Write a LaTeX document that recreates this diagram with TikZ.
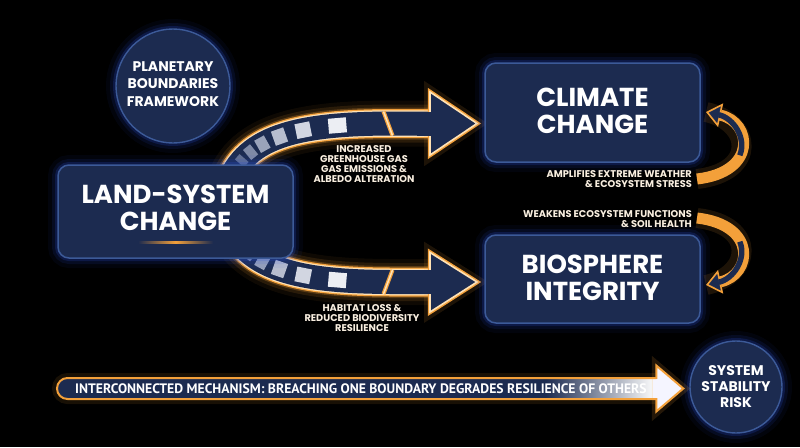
\documentclass[tikz,border=0pt]{standalone}
\usepackage{fontspec}
\setmainfont{Poppins}
\newfontfamily\condfont{PT Sans}
\usetikzlibrary{arrows.meta,calc}
\definecolor{navyc}{HTML}{1C2B50}
\definecolor{edgec}{HTML}{3C5A98}
\definecolor{glowc}{HTML}{2A50D8}
\definecolor{orgc}{HTML}{F3A03A}
\definecolor{creamc}{HTML}{FFE2B5}
\definecolor{lblc}{HTML}{F8EEDF}
\definecolor{sqa}{HTML}{65718F}
\definecolor{sqb}{HTML}{7F8AA6}
\definecolor{sqc}{HTML}{9AA3BA}
\definecolor{sqd}{HTML}{B7BDCE}
\definecolor{sqe}{HTML}{D2D6E1}
\definecolor{sqf}{HTML}{ECEEF3}
\pgfdeclarehorizontalshading{barshade}{100bp}{color(0bp)=(navyc); color(25bp)=(navyc); color(65bp)=(navyc); color(74bp)=(white); color(100bp)=(white)}
\tikzset{
  blueglow/.style={preaction={draw=glowc, line width=20pt, opacity=0.06},
                   preaction={draw=glowc, line width=12pt, opacity=0.11},
                   preaction={draw=glowc, line width=6pt, opacity=0.2}},
  panel/.style={blueglow, draw=edgec, line width=1.5pt, fill=navyc, rounded corners=11pt, inner sep=0pt},
  bigtxt/.style={text=white, align=center, font=\bfseries\fontsize{26}{27}\selectfont, inner sep=0pt},
  disc/.style={blueglow, circle, draw=edgec, line width=1.4pt, fill=navyc, text=white, align=center, inner sep=0pt},
  lbl/.style={text=lblc, font=\bfseries\fontsize{9.8}{10.2}\selectfont, inner sep=0pt},
  sqr/.style={sloped, inner sep=0pt},
  headsty/.style={fill=navyc, draw=creamc, line width=1.6pt, line join=miter,
                  preaction={draw=orgc, line width=12pt, opacity=0.12},
                  preaction={draw=orgc, line width=4.5pt}},
}
\begin{document}
\begin{tikzpicture}[x=1pt,y=-1pt]
\fill[black] (0,0) rectangle (800,447);
\useasboundingbox (0,0) rectangle (800,447);

% ---------- upper big arrow ----------
\coordinate (ua) at (226,192);
\coordinate (uk) at (390,123.5);
\coordinate (ub) at (431,123.5);
\coordinate (ut) at (477,123.5);
\def\upath{(ua) .. controls (240,135) and (300,124) .. (uk) -- (ub)}
\draw[orgc, line width=46pt, opacity=0.06] \upath;
\draw[orgc, line width=38pt, opacity=0.12] \upath;
\draw[orgc, line width=32pt, opacity=0.25] \upath;
\draw[orgc, line width=29pt] \upath;
\draw[creamc, line width=26.5pt] \upath;
\draw[navyc, line width=24pt] \upath;
\path[headsty] ($(ut)+(-47,-31.5)$) -- (ut) -- ($(ut)+(-47,31.5)$) -- cycle;
\draw[navyc, line width=24pt] ($(ub)+(-14,0)$) -- ($(ub)+(3,0)$);
\draw[creamc, line width=1.5pt, preaction={draw=orgc, line width=4pt}] (383.5,111.5) -- (392.5,135.5);
\path (ua) .. controls (240,135) and (300,124) .. (uk)
  node[sqr, pos=0.22, minimum width=7pt, minimum height=12pt, fill=sqa] (ud1) {}
  node[sqr, pos=0.30, minimum width=9pt, minimum height=13pt, fill=sqb] (ud2) {}
  node[sqr, pos=0.39, minimum width=11pt, minimum height=14pt, fill=sqc] (ud3) {}
  node[sqr, pos=0.50, minimum width=13pt, minimum height=15pt, fill=sqd] (ud4) {}
  node[sqr, pos=0.63, minimum width=15pt, minimum height=15pt, fill=sqe] (ud5) {}
  node[sqr, pos=0.79, minimum width=18pt, minimum height=15pt, fill=sqf] (ud6) {};

% ---------- lower big arrow ----------
\coordinate (la) at (226,214);
\coordinate (lk) at (390,282);
\coordinate (lb) at (431,282);
\coordinate (lt) at (477,282);
\def\lpath{(la) .. controls (240,270.5) and (300,281.5) .. (lk) -- (lb)}
\draw[orgc, line width=46pt, opacity=0.06] \lpath;
\draw[orgc, line width=38pt, opacity=0.12] \lpath;
\draw[orgc, line width=32pt, opacity=0.25] \lpath;
\draw[orgc, line width=29pt] \lpath;
\draw[creamc, line width=26.5pt] \lpath;
\draw[navyc, line width=24pt] \lpath;
\path[headsty] ($(lt)+(-47,-29.5)$) -- (lt) -- ($(lt)+(-47,30)$) -- cycle;
\draw[navyc, line width=24pt] ($(lb)+(-14,0)$) -- ($(lb)+(3,0)$);
\draw[creamc, line width=1.5pt, preaction={draw=orgc, line width=4pt}] (383.5,294) -- (392.5,270);
\path (la) .. controls (240,270.5) and (300,281.5) .. (lk)
  node[sqr, pos=0.22, minimum width=7pt, minimum height=12pt, fill=sqa] (ld1) {}
  node[sqr, pos=0.30, minimum width=9pt, minimum height=13pt, fill=sqb] (ld2) {}
  node[sqr, pos=0.39, minimum width=11pt, minimum height=14pt, fill=sqc] (ld3) {}
  node[sqr, pos=0.50, minimum width=13pt, minimum height=15pt, fill=sqd] (ld4) {}
  node[sqr, pos=0.63, minimum width=15pt, minimum height=15pt, fill=sqe] (ld5) {}
  node[sqr, pos=0.79, minimum width=18pt, minimum height=15pt, fill=sqf] (ld6) {};

% ---------- panels ----------
\node[disc, minimum size=114pt] (pb) at (173,86) {};
\node[text=white, align=center, font=\bfseries\fontsize{14}{17.5}\selectfont, inner sep=0pt] (pbt) at (173,84) {PLANETARY\\BOUNDARIES\\FRAMEWORK};

\node[panel, minimum width=235pt, minimum height=93pt] (land) at (175.5,211.5) {};
\node[bigtxt] (landt) at (175.5,208) {LAND-SYSTEM\\CHANGE};
\shade[left color=navyc, right color=navyc, middle color=orgc] (138,241) rectangle (213,243.5);

\node[panel, minimum width=215pt, minimum height=99pt] (clim) at (592.5,112.5) {};
\node[bigtxt] (climt) at (592.5,111) {CLIMATE\\CHANGE};
\node[panel, minimum width=215pt, minimum height=88pt] (bio) at (592.5,279) {};
\node[bigtxt] (biot) at (592.5,278) {BIOSPHERE\\INTEGRITY};

% ---------- labels ----------
\node[lbl, align=center] (lu) at (364,164) {INCREASED\\GREENHOUSE GAS\\GAS EMISSIONS \&\\ALBEDO ALTERATION};
\node[lbl, align=center] (ll) at (362,318) {HABITAT LOSS \&\\REDUCED BIODIVERSITY\\RESILIENCE};
\node[lbl, align=right, anchor=east] (lr1) at (692,179) {AMPLIFIES EXTREME WEATHER\\\& ECOSYSTEM STRESS};
\node[lbl, align=right, anchor=east] (lr2) at (692,219) {WEAKENS ECOSYSTEM FUNCTIONS\\\& SOIL HEALTH};

% ---------- feedback arrows ----------
\coordinate (fa0) at (697,179);
\coordinate (fa1) at (706,112);
\draw[orgc, line width=20pt, opacity=0.12] (fa0) .. controls (758,172) and (752,122) .. (fa1);
\draw[orgc, line width=11pt, -{Triangle[length=15pt, width=24pt, fill=navyc, color=orgc, line width=1.6pt]}] (fa0) .. controls (758,172) and (752,122) .. (fa1);
\draw[navyc, line width=5.5pt, shorten >=13pt] (739.8,155.3) .. controls (746.8,138.4) and (733.6,118) .. (fa1);

\coordinate (fb0) at (697,218);
\coordinate (fb1) at (706,285);
\draw[orgc, line width=20pt, opacity=0.12] (fb0) .. controls (758,225) and (752,275) .. (fb1);
\draw[orgc, line width=11pt, -{Triangle[length=15pt, width=24pt, fill=navyc, color=orgc, line width=1.6pt]}] (fb0) .. controls (758,225) and (752,275) .. (fb1);
\draw[navyc, line width=5.5pt, shorten >=13pt] (739.8,241.7) .. controls (746.8,258.6) and (733.6,279) .. (fb1);

% ---------- bottom arrow ----------
\node[disc, minimum size=92pt, font=\bfseries\fontsize{14}{16}\selectfont] (risk) at (736,387) {SYSTEM\\STABILITY\\RISK};
\coordinate (b0) at (57,388.5);
\coordinate (bt) at ($(risk.west)+(-6,1.5)$);
\draw[orgc, line width=10pt, opacity=0.1, rounded corners=10.5pt] (655,378) -- (57,378) -- (57,399) -- (655,399);
\shade[shading=barshade, rounded corners=10.5pt] (668,378) -- (57,378) -- (57,399) -- (668,399) -- cycle;
\path[fill=white!96!blue, draw=orgc, line width=2pt, line join=miter, preaction={draw=orgc, line width=9pt, opacity=0.15}]
  ($(bt)+(-27,-23)$) -- (bt) -- ($(bt)+(-27,23)$) -- cycle;
\fill[white!96!blue] ($(bt)+(-30,-9.5)$) rectangle ($(bt)+(-24,9.5)$);
\draw[orgc, line width=2pt, rounded corners=10.5pt] ($(bt)+(-27,-10.5)$) -- (57,378) -- (57,399) -- ($(bt)+(-27,10.5)$);
\node[anchor=west, text=white, font=\condfont\bfseries\fontsize{13.7}{14}\selectfont, inner sep=0pt] (btxt) at (75,388.5) {INTERCONNECTED MECHANISM: BREACHING ONE BOUNDARY DEGRADES RESILIENCE OF OTHERS};
\end{tikzpicture}
\end{document}
